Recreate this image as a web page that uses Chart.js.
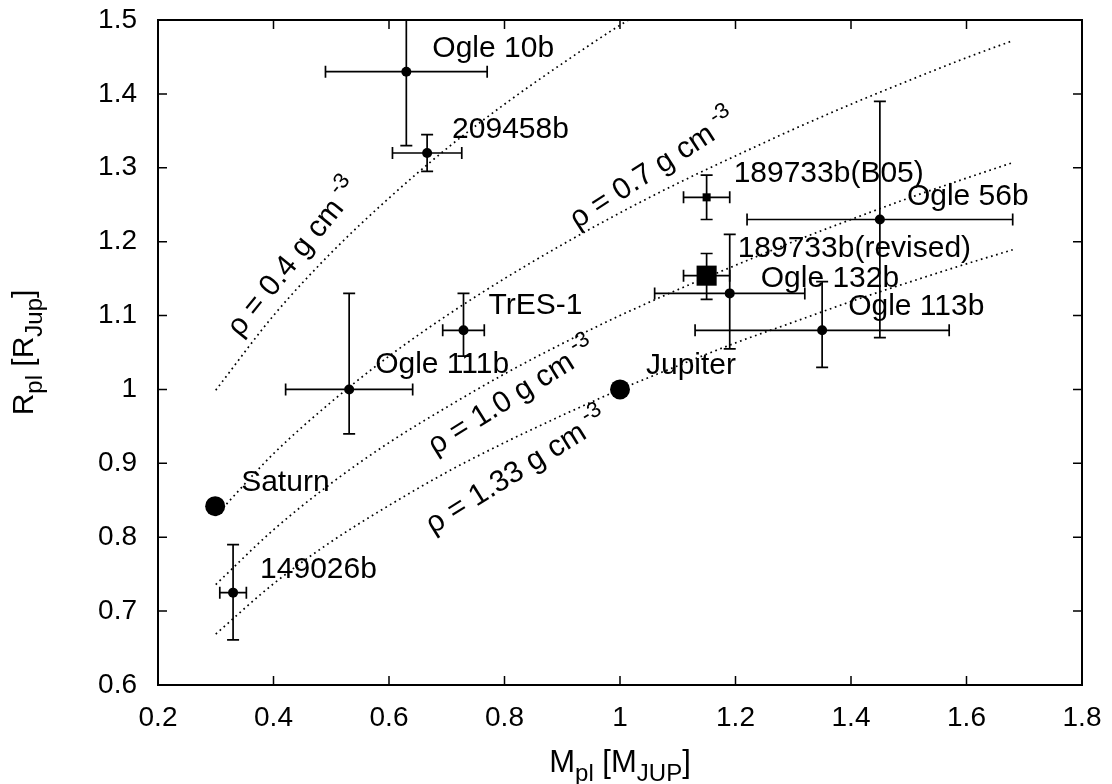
<!DOCTYPE html>
<html>
<head>
<meta charset="utf-8">
<script src="https://cdn.jsdelivr.net/npm/chart.js@4.4.0/dist/chart.umd.min.js"></script>
<style>
  html, body { margin: 0; padding: 0; background: #fff; }
  #wrap { width: 1112px; height: 784px; }
</style>
</head>
<body>
<div id="wrap"><canvas id="mrChart" width="1112" height="784"></canvas></div>
<script>
// transiting planets: mass [M_Jup], radius [R_Jup] with error bars
const planetNames = ['Ogle 10b', '209458b', '189733b(B05)', 'Ogle 56b', '189733b(revised)',
  'Ogle 132b', 'Ogle 113b', 'TrES-1', 'Ogle 111b', '149026b'];
const planetMass = [0.63, 0.666, 1.15, 1.45, 1.15, 1.19, 1.35, 0.729, 0.531, 0.33];
const planetRadius = [1.43, 1.32, 1.26, 1.23, 1.154, 1.13, 1.08, 1.08, 1.0, 0.725];
const massErr = [0.14, 0.06, 0.04, 0.23, 0.04, 0.13, 0.22, 0.036, 0.11, 0.023];
const radErrLo = [0.10, 0.025, 0.03, 0.16, 0.032, 0.075, 0.05, 0.035, 0.06, 0.064];
const radErrHi = [0.10, 0.025, 0.03, 0.16, 0.03, 0.08, 0.066, 0.05, 0.13, 0.065];

// solar system reference
const solarNames = ['Saturn', 'Jupiter'];
const solarMass = [0.299, 1.0];
const solarRadius = [0.842, 1.0];

// iso-density curves
const rho04Mass = [0.3, 0.4, 0.5, 0.6, 0.7, 0.8, 0.9, 1.0, 1.015];
const rho04Radius = [0.999, 1.100, 1.185, 1.259, 1.326, 1.386, 1.441, 1.493, 1.5];
const curveMass = [0.3, 0.4, 0.5, 0.6, 0.7, 0.8, 0.9, 1.0, 1.1, 1.2, 1.3, 1.4, 1.5, 1.6, 1.68];
const rho07Radius = [0.829, 0.913, 0.983, 1.045, 1.100, 1.150, 1.196, 1.239, 1.279, 1.316, 1.352, 1.386, 1.418, 1.449, 1.472];
const rho10Radius = [0.736, 0.810, 0.873, 0.928, 0.976, 1.021, 1.062, 1.100, 1.135, 1.168, 1.200, 1.230, 1.259, 1.286, 1.307];
const rho133Radius = [0.669, 0.737, 0.794, 0.843, 0.888, 0.928, 0.965, 1.000, 1.032, 1.063, 1.091, 1.119, 1.145, 1.170, 1.189];

const rhoLabels = ['ρ = 0.4 g cm', 'ρ = 0.7 g cm', 'ρ = 1.0 g cm', 'ρ = 1.33 g cm'];
const rhoLabelMass = [0.342, 0.926, 0.680, 0.676];
const rhoLabelRadius = [1.070, 1.217, 0.911, 0.804];

// axis ticks
const xTicks = [0.2, 0.4, 0.6, 0.8, 1.0, 1.2, 1.4, 1.6, 1.8];
const xTickLabels = ['0.2', '0.4', '0.6', '0.8', '1', '1.2', '1.4', '1.6', '1.8'];
const yTicks = [0.6, 0.7, 0.8, 0.9, 1.0, 1.1, 1.2, 1.3, 1.4, 1.5];
const yTickLabels = ['0.6', '0.7', '0.8', '0.9', '1', '1.1', '1.2', '1.3', '1.4', '1.5'];

// drawing styles (not data)
const FONT = '"Liberation Sans", Arial, Helvetica, sans-serif';
const rhoAngles = [51, 33, 32, 32];
const labelOffsets = [[26, -15], [25, -15], [27, -15], [27, -15], [31, -19],
  [31, -6], [26, -15], [25, -16], [26, -16], [27, -15]];
const planetStyles = ['circle', 'circle', 'rect', 'circle', 'rect', 'circle', 'circle', 'circle', 'circle', 'circle'];
const planetSizes = [5, 5, 5.7, 5, 14.2, 5, 5, 5, 5, 5];

function toPoints(xs, ys) { return xs.map((v, i) => ({ x: v, y: ys[i] })); }

function curveSet(xs, ys) {
  return {
    type: 'scatter', showLine: true, data: toPoints(xs, ys),
    borderColor: '#000', borderWidth: 1.7, borderDash: [1.7, 3.6],
    pointRadius: 0, cubicInterpolationMode: 'monotone', fill: false
  };
}

function drawRich(ctx, parts, x, y, main, sub) {
  let w = 0;
  parts.forEach(p => { ctx.font = (p.sub ? sub : main) + 'px ' + FONT; w += ctx.measureText(p.t).width; });
  let cx = x - w / 2;
  parts.forEach(p => {
    ctx.font = (p.sub ? sub : main) + 'px ' + FONT;
    ctx.fillText(p.t, cx, y + (p.sub ? 9 : 0));
    cx += ctx.measureText(p.t).width;
  });
}

const overlay = {
  id: 'overlay',
  beforeDatasetsDraw(chart) {
    const { ctx, chartArea: a, scales: { x, y } } = chart;
    ctx.save();
    ctx.beginPath();
    ctx.rect(a.left, a.top, a.right - a.left, a.bottom - a.top);
    ctx.clip();
    ctx.strokeStyle = '#000';
    ctx.lineWidth = 1.7;
    const cap = 6;
    planetMass.forEach((m, i) => {
      const px = x.getPixelForValue(m), py = y.getPixelForValue(planetRadius[i]);
      const x0 = x.getPixelForValue(m - massErr[i]), x1 = x.getPixelForValue(m + massErr[i]);
      const y0 = y.getPixelForValue(planetRadius[i] - radErrLo[i]);
      const y1 = y.getPixelForValue(planetRadius[i] + radErrHi[i]);
      ctx.beginPath();
      ctx.moveTo(x0, py); ctx.lineTo(x1, py);
      ctx.moveTo(x0, py - cap); ctx.lineTo(x0, py + cap);
      ctx.moveTo(x1, py - cap); ctx.lineTo(x1, py + cap);
      ctx.moveTo(px, y0); ctx.lineTo(px, y1);
      ctx.moveTo(px - cap, y0); ctx.lineTo(px + cap, y0);
      ctx.moveTo(px - cap, y1); ctx.lineTo(px + cap, y1);
      ctx.stroke();
    });
    ctx.restore();
  },
  afterDatasetsDraw(chart) {
    const { ctx, scales: { x, y } } = chart;
    ctx.save();
    ctx.fillStyle = '#000';
    ctx.textBaseline = 'alphabetic';
    ctx.font = '30px ' + FONT;
    planetNames.forEach((n, i) => {
      const o = labelOffsets[i];
      ctx.fillText(n, x.getPixelForValue(planetMass[i]) + o[0], y.getPixelForValue(planetRadius[i]) + o[1]);
    });
    solarNames.forEach((n, i) => {
      ctx.fillText(n, x.getPixelForValue(solarMass[i]) + 26, y.getPixelForValue(solarRadius[i]) - 15);
    });
    // rotated density labels
    rhoLabels.forEach((t, i) => {
      ctx.save();
      ctx.translate(x.getPixelForValue(rhoLabelMass[i]), y.getPixelForValue(rhoLabelRadius[i]));
      ctx.rotate(-rhoAngles[i] * Math.PI / 180);
      ctx.font = '30px ' + FONT;
      ctx.fillText(t, 0, 0);
      const w = ctx.measureText(t).width;
      ctx.font = '22px ' + FONT;
      ctx.fillText('-3', w + 6, -13);
      ctx.restore();
    });
    ctx.restore();
  },
  afterDraw(chart) {
    const { ctx, chartArea: a, scales: { x, y } } = chart;
    ctx.save();
    ctx.strokeStyle = '#000';
    ctx.lineWidth = 1.5;
    ctx.beginPath();
    xTicks.forEach(v => {
      const px = x.getPixelForValue(v);
      ctx.moveTo(px, a.bottom); ctx.lineTo(px, a.bottom - 9);
      ctx.moveTo(px, a.top); ctx.lineTo(px, a.top + 9);
    });
    yTicks.forEach(v => {
      const py = y.getPixelForValue(v);
      ctx.moveTo(a.left, py); ctx.lineTo(a.left + 9, py);
      ctx.moveTo(a.right, py); ctx.lineTo(a.right - 9, py);
    });
    ctx.stroke();
    ctx.lineWidth = 2;
    ctx.strokeRect(a.left, a.top, a.right - a.left, a.bottom - a.top);

    // axis titles with subscripts
    ctx.fillStyle = '#000';
    ctx.textBaseline = 'alphabetic';
    drawRich(ctx, [{ t: 'M' }, { t: 'pl', sub: true }, { t: ' [M' }, { t: 'JUP', sub: true }, { t: ']' }],
      (a.left + a.right) / 2, 772, 31, 24);
    ctx.translate(33, (a.top + a.bottom) / 2);
    ctx.rotate(-Math.PI / 2);
    drawRich(ctx, [{ t: 'R' }, { t: 'pl', sub: true }, { t: ' [R' }, { t: 'Jup', sub: true }, { t: ']' }],
      0, 0, 30, 24);
    ctx.restore();
  }
};

Chart.defaults.font.family = FONT;
Chart.defaults.color = '#000';

new Chart(document.getElementById('mrChart').getContext('2d'), {
  type: 'scatter',
  data: {
    datasets: [
      {
        data: toPoints(planetMass, planetRadius),
        backgroundColor: '#000', borderColor: '#000', borderWidth: 0,
        pointStyle: planetStyles, pointRadius: planetSizes
      },
      {
        data: toPoints(solarMass, solarRadius),
        backgroundColor: '#000', borderColor: '#000', borderWidth: 0,
        pointStyle: 'circle', pointRadius: 10
      },
      curveSet(rho04Mass, rho04Radius),
      curveSet(curveMass, rho07Radius),
      curveSet(curveMass, rho10Radius),
      curveSet(curveMass, rho133Radius)
    ]
  },
  options: {
    responsive: false,
    animation: false,
    layout: { padding: { top: 20, right: 30, left: 0, bottom: 0 } },
    plugins: { legend: { display: false }, tooltip: { enabled: false } },
    scales: {
      x: {
        type: 'linear', min: 0.2, max: 1.8,
        afterBuildTicks: s => { s.ticks = xTicks.map(v => ({ value: v })); },
        afterFit: s => { s.height = 99; s.paddingLeft = 0; s.paddingRight = 0; },
        grid: { display: false, drawTicks: false },
        border: { display: false },
        ticks: {
          font: { size: 28 }, padding: 16, maxRotation: 0, autoSkip: false,
          callback: v => xTickLabels[xTicks.findIndex(t => Math.abs(t - v) < 1e-6)]
        }
      },
      y: {
        type: 'linear', min: 0.6, max: 1.5,
        afterBuildTicks: s => { s.ticks = yTicks.map(v => ({ value: v })); },
        afterFit: s => { s.width = 158; s.paddingTop = 0; s.paddingBottom = 0; },
        grid: { display: false, drawTicks: false },
        border: { display: false },
        ticks: {
          font: { size: 28 }, padding: 21, autoSkip: false,
          callback: v => yTickLabels[yTicks.findIndex(t => Math.abs(t - v) < 1e-6)]
        }
      }
    }
  },
  plugins: [overlay]
});
</script>
</body>
</html>
